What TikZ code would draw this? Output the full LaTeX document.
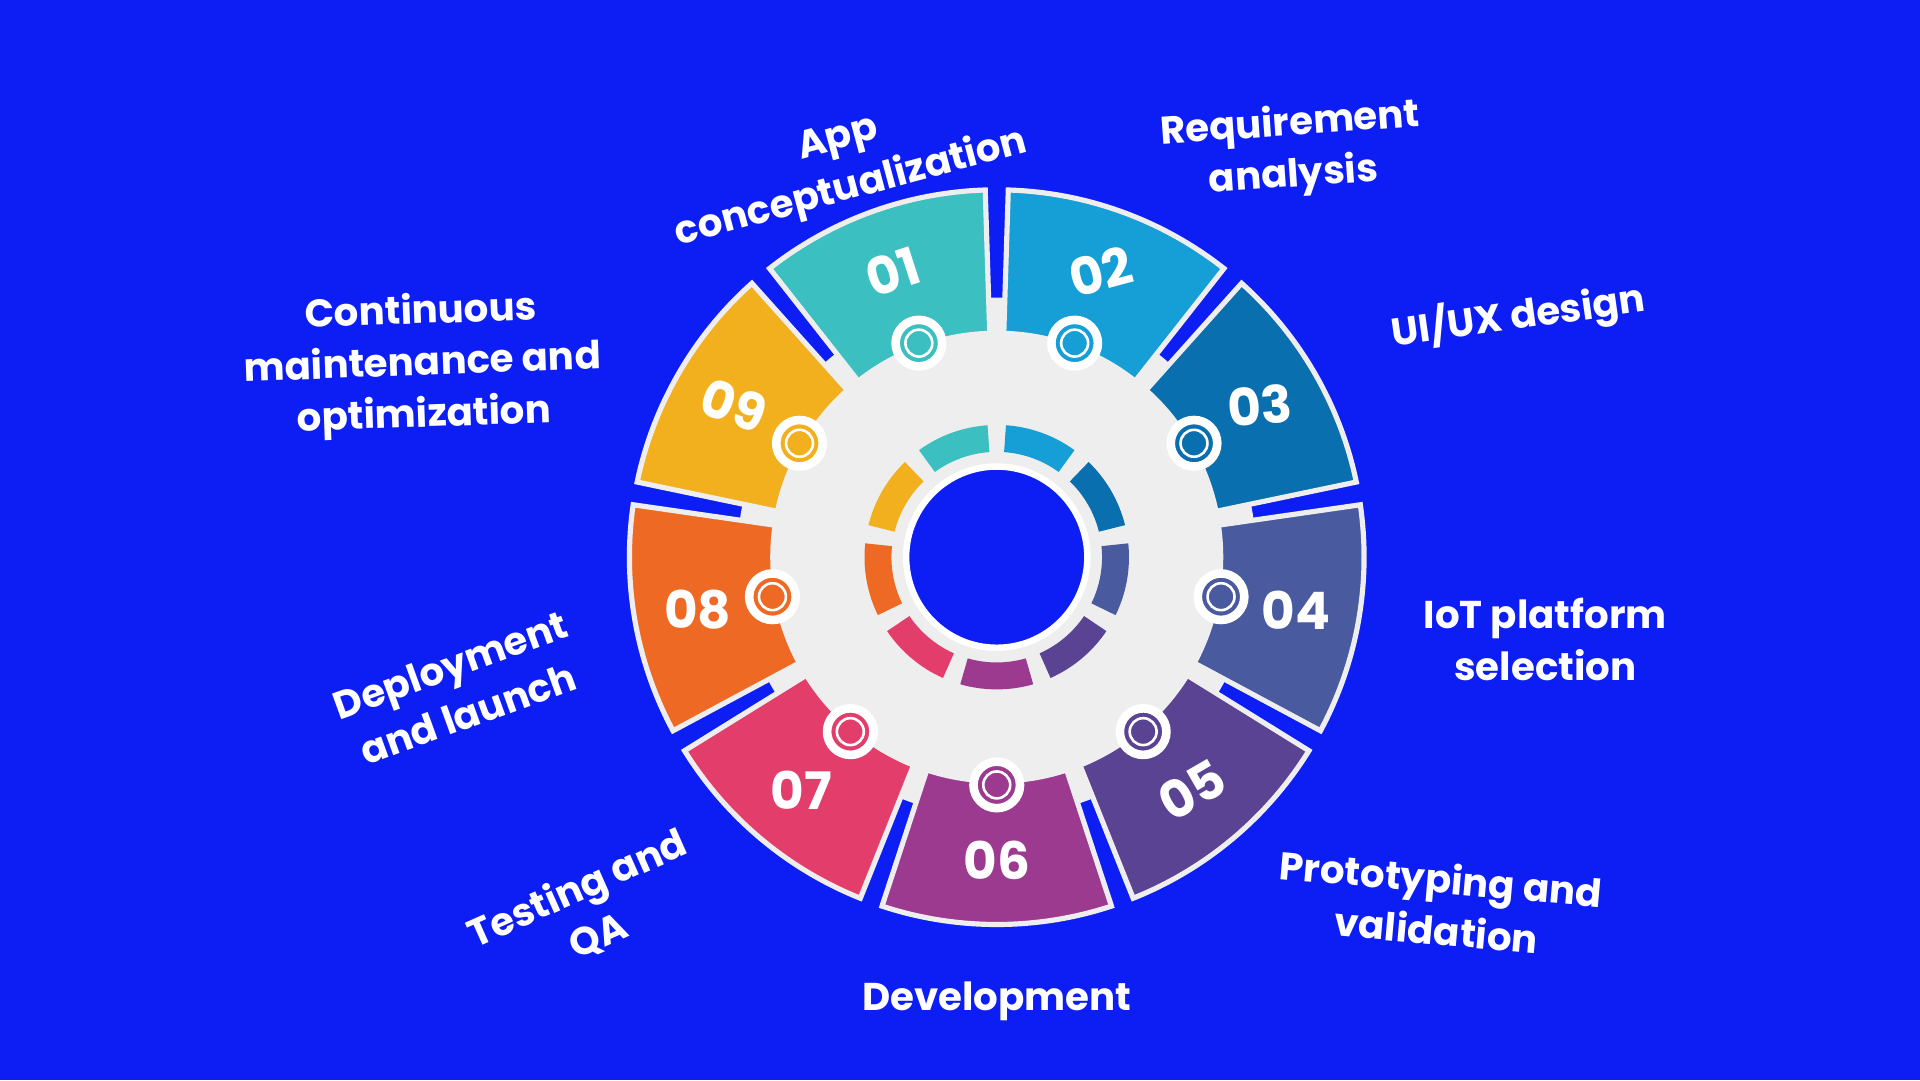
\documentclass[tikz,border=0pt]{standalone}
\usepackage{fontspec}
\setmainfont{Poppins}
\definecolor{bgblue}{HTML}{0D1EF5}
\definecolor{ringgrey}{HTML}{EEEEEF}
\definecolor{c1}{HTML}{3CBFC0}
\definecolor{c2}{HTML}{159FD6}
\definecolor{c3}{HTML}{0A6FAE}
\definecolor{c4}{HTML}{4A5A9E}
\definecolor{c5}{HTML}{5B4393}
\definecolor{c6}{HTML}{9B3A8E}
\definecolor{c7}{HTML}{E33E6B}
\definecolor{c8}{HTML}{EE6A24}
\definecolor{c9}{HTML}{F2B01E}
\tikzset{
  lbl/.style={text=white, font=\bfseries\fontsize{9}{12}\selectfont, align=center},
  num/.style={text=white, font=\bfseries\fontsize{12}{15}\selectfont},
}
\begin{document}
\begin{tikzpicture}
	\fill[bgblue] (0,0) rectangle (15.68,8.82);
	\useasboundingbox (0,0) rectangle (15.68,8.82);
	\begin{scope}[shift={(8.14,4.27)}]
		\fill[ringgrey] (0,0) circle (2.12);
		% outer sectors
		\foreach \i in {1,...,9} {
			\pgfmathsetmacro{\a}{110-40*(\i-1)}
			\pgfmathsetmacro{\aa}{\a+18.2}
			\pgfmathsetmacro{\ab}{\a-18.2}
			\filldraw[fill=c\i, draw=ringgrey, line width=1.2pt]
				(\aa:1.5) -- (\aa:3) arc[start angle=\aa, end angle=\ab, radius=3] -- (\ab:1.5) -- cycle;
		}
		\fill[ringgrey] (0,0) circle (1.85);
		% inner ring
		\foreach \i in {1,...,9} {
			\pgfmathsetmacro{\a}{110-40*(\i-1)}
			\pgfmathsetmacro{\aa}{\a+16}
			\pgfmathsetmacro{\ab}{\a-16}
			\fill[c\i] (\aa:0.86) -- (\aa:1.08) arc[start angle=\aa, end angle=\ab, radius=1.08] -- (\ab:0.86) arc[start angle=\ab, end angle=\aa, radius=0.86] -- cycle;
		}
		\filldraw[fill=bgblue, draw=white, line width=1.5pt] (0,0) circle (0.74);
		% dots and numbers
		\foreach \i/\r in {1/18,2/15,3/5,4/0,5/30,6/0,7/0,8/0,9/-20} {
			\pgfmathsetmacro{\a}{110-40*(\i-1)}
			\filldraw[fill=c\i, draw=white, line width=2pt] (\a:1.86) circle (0.19);
			\draw[white, line width=0.6pt] (\a:1.86) circle (0.11);
			\node[num, rotate=\r] (n\i) at (\a:2.48) {0\i};
		}
	\end{scope}
	% labels
	\node[lbl, rotate=15] (app) at (6.90,7.47) {App\\conceptualization};
	\node[lbl, rotate=4] (req) at (10.55,7.59) {Requirement\\analysis};
	\node[lbl, rotate=8] (ui) at (12.40,6.24) {UI/UX design};
	\node[lbl] (iot) at (12.62,3.60) {IoT platform\\selection};
	\node[lbl, rotate=-5] (proto) at (11.75,1.44) {Prototyping and\\validation};
	\node[lbl] (dev) at (8.14,0.64) {Development};
	\node[lbl, rotate=24] (test) at (4.80,1.37) {Testing and\\QA};
	\node[lbl, rotate=20] (deploy) at (3.75,3.19) {Deployment\\and launch};
	\node[lbl, rotate=2] (cont) at (3.45,5.84) {Continuous\\maintenance and\\optimization};
\end{tikzpicture}
\end{document}
